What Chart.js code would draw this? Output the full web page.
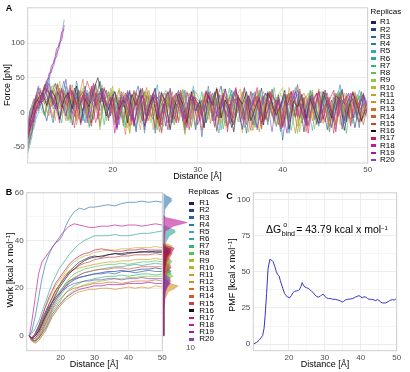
<!DOCTYPE html>
<html>
<head>
<meta charset="utf-8">
<script src="https://cdn.jsdelivr.net/npm/chart.js@4.4.1/dist/chart.umd.min.js"></script>
<style>
  body { margin: 0; background: #fff; font-family: "Liberation Sans", Arial, sans-serif; }
  #wrap { position: relative; width: 410px; height: 372px; overflow: hidden; }
  canvas { position: absolute; }
  .t { position: absolute; white-space: nowrap; color: #000; transform: translate(-50%, -50%); }
  .rot { transform: translate(-50%, -50%) rotate(-90deg); }
  .lbl { font-size: 9px; }
  .pan { font-size: 9px; font-weight: bold; }
  .leg { position: absolute; white-space: nowrap; font-size: 8px; line-height: 8px; color: #000; }
  .key { position: absolute; height: 2.5px; }
  sup { font-size: 6px; vertical-align: 3px; line-height: 0; }
  .sm { position: absolute; font-size: 7px; line-height: 8px; }
</style>
</head>
<body>
<div id="wrap">
  <canvas id="chartA" width="410" height="185" style="left:0;top:0"></canvas>
  <canvas id="chartB" width="172" height="187" style="left:0;top:185px"></canvas>
  <canvas id="chartBd" width="35" height="187" style="left:160px;top:185px"></canvas>
  <canvas id="chartC" width="185" height="187" style="left:225px;top:185px"></canvas>

  <div class="t pan" style="left:9px;top:7.5px">A</div>
  <div class="t pan" style="left:9px;top:191.5px">B</div>
  <div class="t pan" style="left:229.5px;top:196px">C</div>

  <div class="t rot lbl" style="left:7px;top:85px">Force [pN]</div>
  <div class="t lbl" style="left:197.5px;top:176px">Distance [Å]</div>
  <div class="t rot lbl" style="left:9.5px;top:270px">Work [kcal x mol<sup>−1</sup>]</div>
  <div class="t lbl" style="left:94px;top:363.5px">Distance [Å]</div>
  <div class="t rot lbl" style="left:232px;top:275px">PMF [kcal x mol<sup>−1</sup>]</div>
  <div class="t lbl" style="left:325px;top:363.5px">Distance [Å]</div>

  <div style="position:absolute;left:266px;top:223px;font-size:10.5px;line-height:12px;white-space:nowrap">ΔG<span style="position:relative;display:inline-block;width:15px;height:1px"><span class="sm" style="left:2px;top:-11px">o</span><span class="sm" style="left:0.5px;top:-2px">bind</span></span>= 43.79 kcal x mol<sup>−1</sup></div>

  <div class="leg" style="left:186px;top:344px;color:#4d4d4d">10</div>
  <div id="legA"></div>
  <div id="legB"></div>
</div>

<script>
const FONT = '"Liberation Sans", Arial, sans-serif';
Chart.defaults.font.family = FONT;

const replicas = ['R1', 'R2', 'R3', 'R4', 'R5', 'R6', 'R7', 'R8', 'R9', 'R10',
  'R11', 'R12', 'R13', 'R14', 'R15', 'R16', 'R17', 'R18', 'R19', 'R20'];
const colors = ['#1f1f5f', '#24408e', '#2d5fa8', '#2e78b0', '#40a0bd', '#30a59a', '#2cb86e', '#5cc24f', '#91c53c', '#b5b82d',
  '#c6a224', '#d08d28', '#d06f21', '#d25a2f', '#cc4040', '#101010', '#c8185a', '#c01a98', '#9b1aa8', '#7d44bb'];

// A: force traces (pN) vs distance, two sampling grids
const distA = [10, 10.5, 11, 11.5, 12, 12.5, 13, 13.5, 14, 14.5, 15, 15.5, 16, 16.5, 17, 17.5, 18, 18.5, 19, 19.5,
  20, 20.5, 21, 21.5, 22, 22.5, 23, 23.5, 24, 24.5, 25, 25.5, 26, 26.5, 27, 27.5, 28, 28.5, 29, 29.5,
  30, 30.5, 31, 31.5, 32, 32.5, 33, 33.5, 34, 34.5, 35, 35.5, 36, 36.5, 37, 37.5, 38, 38.5, 39, 39.5,
  40, 40.5, 41, 41.5, 42, 42.5, 43, 43.5, 44, 44.5, 45, 45.5, 46, 46.5, 47, 47.5, 48, 48.5, 49, 49.5, 50];
const distA2 = [10, 10.25, 10.75, 11.25, 11.75, 12.25, 12.75, 13.25, 13.75, 14.25, 14.75, 15.25, 15.75, 16.25, 16.75,
  17.25, 17.75, 18.25, 18.75, 19.25, 19.75, 20.25, 20.75, 21.25, 21.75, 22.25, 22.75, 23.25, 23.75, 24.25, 24.75,
  25.25, 25.75, 26.25, 26.75, 27.25, 27.75, 28.25, 28.75, 29.25, 29.75, 30.25, 30.75, 31.25, 31.75, 32.25, 32.75,
  33.25, 33.75, 34.25, 34.75, 35.25, 35.75, 36.25, 36.75, 37.25, 37.75, 38.25, 38.75, 39.25, 39.75, 40.25, 40.75,
  41.25, 41.75, 42.25, 42.75, 43.25, 43.75, 44.25, 44.75, 45.25, 45.75, 46.25, 46.75, 47.25, 47.75, 48.25, 48.75,
  49.25, 49.75];
const forceR = [
  [-40, -18, 5, 22, -5, 30, 12, 40, 8, 25, -10, 35, 18, 2, 28, -15, 20, 45, 10, -8, 22,
   -12, 18, 5, 30, -20, 12, 25, -5, 15, 35, -18, 8, 22, -10, 28, 4, -25, 15, 32, 0, 18, -15, 10, 28, -8, 20, 5, -22, 30, 12,
   -5, 24, -18, 8, 35, -10, 15, 2, 26, -20, 10, 30, -8, 18, -28, 12, 22, 0, -15, 28, 8, -12, 20, 32, -6, 14, -22, 10, 25, 5],
  [-25, -5, 12, 35, 8, -12, 25, 42, 15, 5, 30, -18, 22, 10, 38, 2, -10, 28, 15, 32, -5,
   20, 8, -15, 25, 10, -28, 18, 30, 2, -10, 22, 12, -20, 35, 5, 15, -8, 28, 18, -25, 10, 2, 30, -12, 20, 38, -5, 12, -18, 25,
   8, -30, 15, 22, 4, -10, 30, 14, -20, 8, 26, -8, 16, 40, -15, 5, 22, -10, 30, 10, -25, 18, 4, 28, -12, 12, 20, -5, 30, 6],
  [-55, -28, -2, 18, 40, 10, -15, 28, 20, 48, 0, 15, 32, -8, 22, 12, 38, -20, 18, 25, 8,
   -22, 30, 15, -5, 20, 38, -12, 10, 25, -30, 5, 18, 28, -15, 12, 0, 32, -8, 22, 10, -35, 20, 8, 30, -5, 15, -20, 26, 12, 2,
   35, -12, 18, -25, 8, 28, 14, -10, 20, -40, 10, 24, -6, 30, 4, -18, 16, 28, -2, 12, -28, 22, 8, 34, -14, 10, 18, -22, 26, 12],
  [-30, -10, 18, 5, 28, 42, 15, 25, -10, 32, 20, 8, 45, 12, -15, 30, 18, 5, 35, 10, 22,
   30, -10, 12, 25, 4, -22, 35, 15, -5, 20, 10, -28, 28, 6, 18, -12, 32, 10, -20, 22, 15, 2, 38, -8, 14, 25, -15, 5, 30, 12,
   -25, 20, 8, -10, 28, 16, -18, 34, 0, 10, 22, -30, 14, 26, 4, -12, 30, 8, -20, 18, 28, -6, 12, 40, -16, 6, 20, -10, 24, 2],
  [-45, -22, 8, 30, 12, 50, 5, 20, 35, -5, 18, 28, 10, -12, 32, 15, 40, 2, 22, -8, 30,
   5, 20, -18, 28, 12, -8, 34, 2, 16, -25, 24, 10, 30, -10, 6, 22, -20, 14, 38, 0, 18, -12, 26, 8, -30, 20, 12, 32, -6, 15,
   -22, 8, 28, 18, -14, 4, 30, 10, -18, 24, -4, 14, 36, -10, 20, 6, -26, 16, 30, 2, -12, 22, 10, -20, 28, 8, -8, 32, 14, 0],
  [-18, 2, 20, 10, 28, 45, 22, 5, 30, 15, -12, 25, 38, 8, 18, -20, 28, 12, 35, 2, 15,
   -15, 22, 8, 32, -5, 18, 10, -30, 25, 14, 40, -12, 6, 22, -18, 30, 12, 2, 25, -22, 15, 8, 30, -8, 20, -25, 12, 35, 4, 18,
   -10, 26, 10, -20, 32, 6, -14, 22, 16, -28, 10, 28, -6, 18, 4, -18, 32, 12, -10, 24, 8, -22, 16, 30, 0, 12, -16, 26, 10, -4],
  [-60, -35, 25, 8, -5, 18, 32, 12, -15, 38, 20, 5, 28, -12, 15, 32, 8, 22, -18, 30, 10,
   25, 2, -22, 18, 30, 10, -12, 24, 6, 35, -18, 12, 20, -8, 28, 14, -30, 8, 22, 2, 30, -15, 16, 10, 26, -24, 12, 32, -2, 18,
   -12, 8, 28, 14, -20, 22, 4, 36, -10, 12, 20, -26, 6, 24, 16, -8, 30, -18, 10, 22, 2, -14, 28, 12, -30, 18, 8, 24, -8, 6],
  [-32, -8, 0, 22, 15, 38, 10, 28, 8, 30, -10, 25, 12, 32, 18, -22, 10, 20, 40, -12, 35,
   4, 15, -20, 28, 10, 22, -15, 30, 6, 12, -25, 20, 32, -8, 14, 4, 26, -18, 10, 30, 18, -10, 8, 24, -28, 16, 34, 2, 12, -14,
   28, 6, 20, -22, 10, 30, 12, -6, 22, -16, 4, 26, 14, -30, 18, 8, 32, -10, 16, 24, -4, 10, -20, 30, 6, 20, -12, 14, 28, 8],
  [-40, -15, 15, 35, -5, 20, 40, 12, 18, 28, -15, 22, 8, 35, -8, 12, 26, -25, 18, 6, 32,
   -12, 20, 8, -30, 25, 14, 2, 30, -15, 20, 8, -20, 26, 12, -8, 32, 4, -18, 20, 10, -5, 28, 14, -22, 6, 34, 10, -12, 24, 2,
   18, -28, 12, 30, -6, 16, 8, -16, 26, 36, -10, 4, 22, -20, 14, 28, 0, -12, 20, 10, -26, 18, 30, 6, -8, 24, 12, -18, 10, 4],
  [-28, -2, 10, 28, 32, 8, 20, -12, 45, 15, 5, 30, -8, 30, 20, -15, 35, 6, 22, 14, 28,
   -8, 35, 14, -22, 5, 26, 18, -12, 30, -25, 12, 20, -5, 28, -18, 6, 34, 12, -22, 16, 4, 24, -10, 18, 30, -16, 8, 26, -4, 14,
   -30, 22, 10, 2, 32, -12, 18, 6, -20, 28, 12, -8, 20, 38, -14, 4, 24, -24, 10, 30, 14, -6, 22, -18, 8, 26, -2, 16, -12, 10],
  [-48, -20, 5, 18, 40, 25, 12, 35, -5, 22, 14, 30, -10, 25, 8, 30, 42, -18, 20, 12, 38,
   -12, 5, 25, -30, 16, 10, 32, -15, 20, 6, -20, 28, 14, -10, 22, 5, -32, 20, 30, -8, 10, 26, 2, 14, -18, 28, 8, -6, 20, 34,
   -14, 12, 2, 24, -22, 16, 30, -2, 8, -16, 26, 10, 18, -28, 6, 22, 32, -10, 12, 4, -20, 28, 16, -8, 20, 2, 30, -14, 12, 6],
  [-20, 0, 20, 2, 25, 12, 38, 18, 5, 30, 22, 40, -18, 8, 28, 14, -10, 32, 20, 8, 15,
   -18, 12, 30, -5, 22, 8, -25, 18, 32, 6, -15, 25, 10, -22, 16, 30, -12, 8, 22, -18, 6, 28, 14, -8, 34, 2, -20, 18, 10, 26,
   -12, 4, 30, 16, -28, 12, 22, -4, 18, 8, -14, 36, 6, -20, 14, 24, -8, 10, 30, -16, 20, 4, -24, 16, 28, -6, 12, 22, -10, 8],
  [-35, -12, 8, 32, 12, -5, 28, 42, 15, -12, 32, 10, 20, 48, -8, 35, 12, -5, 18, 30, 6,
   22, 6, -32, 18, 28, -10, 14, 36, -6, 12, -28, 22, 8, 30, -12, 18, -20, 28, 6, -8, 10, 32, -16, 20, 4, 26, -22, 12, 34, -4,
   16, 8, -26, 22, 10, -10, 30, 18, -18, 6, 24, 2, -30, 16, 28, 10, -12, 20, 6, 32, -20, 12, 24, -6, 14, -16, 28, 8, -2, 18],
  [-42, -25, 15, 12, 30, 18, 8, 25, 35, 2, 15, 30, -12, 22, 5, 28, 40, 10, 25, 14, -2,
   20, 32, -8, 14, -18, 30, 4, 20, -12, 26, 10, -30, 18, 6, 24, -15, 12, 30, -10, 20, 4, -22, 28, 14, 36, -8, 10, 22, -16, 6,
   30, 12, -26, 18, 2, 24, -12, 32, 8, -20, 14, 28, -4, 10, 20, -28, 16, 6, 34, -10, 22, 12, -18, 26, 4, -8, 30, 14, -14, 10],
  [-24, -5, 25, 18, 40, 15, -8, 25, 35, 10, 18, -22, 32, 16, 45, 25, -15, 12, 34, 20, 8,
   -10, 26, 12, -20, 32, 6, -12, 24, 14, -22, 30, 8, -15, 22, 10, 32, -18, 5, 24, 12, -26, 18, 30, 2, -8, 28, 16, -14, 20, 6,
   36, -10, 14, 24, -24, 8, 30, 0, 18, -18, 26, 12, -6, 34, 4, -20, 16, 28, -12, 10, 22, -30, 14, 30, 6, -10, 24, 10, -18, 12],
  [-38, -15, 10, 20, 28, 10, 32, 22, -10, 18, 28, 5, 38, -15, 20, 8, 32, 50, 22, -5, 14,
   30, 4, 18, -15, 26, 10, 32, -20, 8, 22, -10, 28, 14, -25, 8, 26, 12, -15, 30, 2, 16, -22, 24, 10, 34, -8, 18, 4, -28, 22,
   12, 30, -12, 6, 20, -18, 28, 14, -4, 10, 32, -24, 16, 8, 26, -10, 20, 2, -16, 30, 12, -8, 24, 18, -26, 6, 28, 10, -12, 4],
  [-50, -28, 22, 10, 35, 28, 18, 5, 32, 12, 40, -6, 20, 30, 10, -20, 28, 14, 36, -12, 20,
   -22, 12, 28, 6, -18, 20, 35, -10, 8, 26, -20, 12, 30, 2, -15, 28, 10, -25, 22, 14, -5, 30, 18, -12, 8, 24, -28, 14, 32, 4,
   -10, 20, 10, 36, -16, 12, 26, -4, 18, -22, 8, 30, 14, -8, 22, -30, 10, 28, 6, -14, 18, 32, -6, 12, 24, -20, 16, 6, 28, -10],
  [-28, -8, 5, 30, 15, 35, 22, 12, -15, 28, 20, 32, 10, -18, 25, 15, 42, -10, 30, 8, 22,
   -30, 18, 8, 30, -12, 16, 25, -20, 10, 28, 14, -18, 20, 32, -10, 18, 5, -22, 28, 12, -12, 6, 24, 16, -26, 10, 34, 2, -8, 20,
   12, -18, 30, 8, 22, -14, 4, 26, 14, -24, 18, 10, 32, -6, 12, -20, 24, 6, 30, -10, 16, 2, -28, 22, 12, 28, -8, 10, 20, -4],
  [-36, -12, 18, 15, 25, 42, 10, 30, 15, -5, 35, 20, 5, 25, -15, 38, 10, 28, 18, 4, 26,
   -25, 22, 14, 32, -15, 8, 24, -12, 20, 34, -8, 12, -25, 20, 28, 6, -10, 22, 16, -18, 5, 30, 12, -20, 26, 8, -6, 18, 36, -14,
   10, 24, 0, -22, 16, 28, 8, -12, 22, 4, -30, 14, 30, 10, -8, 20, 26, -16, 6, 32, 12, -10, 18, -24, 10, 28, 4, -14, 22, 8],
  [-22, 2, 12, 38, 22, 15, 30, 5, 20, 45, 18, -2, 28, 14, 32, -8, 18, 25, 35, 10, 12,
   12, -18, 24, 6, -10, 28, 16, -25, 12, 24, -5, 30, 8, -15, 20, 32, -12, 10, 26, 2, 18, -20, 14, 28, -6, 8, 34, -16, 20, 10,
   -24, 16, 4, 30, -10, 22, 12, -28, 18, 6, 26, -14, 10, 32, 0, -18, 24, 14, -8, 20, 6, -22, 28, 12, -12, 16, 30, -4, 8, 14]
];
// A: early pulling ramp
const rampDist = [10.1, 10.4, 10.7, 11, 11.3, 11.6, 11.9, 12.2, 12.5, 12.8, 13.1, 13.4, 13.7, 14, 14.3];
const rampForce1 = [-45, -30, -24, -8, 0, 18, 22, 40, 46, 62, 68, 86, 92, 112, 134];
const rampForce2 = [-28, -20, -4, 2, 16, 14, 34, 38, 56, 58, 76, 80, 100, 104, 126];
const rampForce3 = [-36, -12, -14, 8, 6, 26, 30, 46, 50, 68, 72, 92, 96, 116, 120];

// B: work (kcal/mol) vs distance
const distB = [10.8, 11.5, 12.5, 13.5, 14.5, 15.5, 16.5, 17.5, 18.5, 19.5, 20.5, 21.5, 22.5, 24, 25.5, 27, 28.5, 30,
  32, 34, 36, 38, 40, 42, 44, 46, 48, 50];
const workR = [
  [0, -1, 1, 4, 7, 10, 13, 16, 19, 21, 23, 25, 27, 29, 31, 32, 33, 33.5, 33, 34, 34.5, 34, 34.5, 35, 35, 35.5, 35, 35],
  [0, -1.5, -1, 1, 4, 7, 10, 13, 15, 17, 19, 21, 22, 23.5, 24.5, 25, 25.5, 26, 26.5, 27, 27, 27.5, 27, 27.5, 28, 28, 28.5, 28],
  [0, -1, 0, 3, 6, 9, 12, 14, 16, 18, 20, 22, 23, 24, 24.5, 25, 25.5, 26, 26, 26.5, 26, 27, 27, 26.5, 27, 27.5, 27, 27],
  [0, 2, 8, 16, 24, 30, 34, 37, 39, 40, 42, 46, 49, 52, 53.5, 53, 54, 54, 54.5, 55, 54.5, 55.5, 56, 56, 56.5, 56, 56.5, 56],
  [0, -2, -2, 0, 2, 5, 8, 11, 14, 16, 18, 20, 22, 24, 25.5, 26.5, 27, 27.5, 28, 28.5, 29, 29, 29.5, 30, 29.5, 30, 30.5, 30],
  [0, 1, 3, 6, 10, 14, 18, 22, 25, 28, 30, 32, 34, 36.5, 38.5, 40, 41, 42, 42, 42, 42.5, 42, 42, 42.5, 43, 43, 43.5, 44],
  [0, -2, -2.5, -1, 1, 4, 7, 10, 12, 14, 16, 18, 19.5, 21, 22, 23, 23.5, 24, 24.5, 25, 25, 25.5, 25, 25.5, 26, 26, 25.5, 26],
  [0, -1, 0, 2, 5, 8, 11, 14, 16, 18, 20, 22, 24, 26, 27, 28, 28.5, 29, 29.5, 30, 30, 30.5, 30, 30.5, 31, 31, 31.5, 31],
  [0, -2, -3, -2, 0, 2, 5, 8, 10, 12, 14, 16, 17.5, 19, 20.5, 21.5, 22, 22.5, 23, 23.5, 24, 24, 24.5, 24.5, 25, 25, 25, 25],
  [0, -1, 1, 4, 8, 12, 15, 18, 21, 23, 25, 27, 29, 31, 32.5, 33.5, 34, 35, 35.5, 36, 36, 36.5, 36.5, 37, 37, 37, 37.5, 37],
  [0, -2, -2, 0, 3, 7, 11, 15, 18, 21, 24, 26, 27, 28, 28.5, 29, 29.5, 30, 30.5, 31, 31, 31.5, 31.5, 32, 32, 32, 32.5, 32],
  [0, -2, -3, -2, 0, 2, 5, 8, 10, 12, 13.5, 15, 16, 17.5, 18.5, 19, 19.5, 19.5, 20, 20, 19.5, 20, 20.5, 20, 20.5, 20, 21, 20.5],
  [0, -1.5, -2, -1, 2, 5, 8, 11, 13, 15, 16.5, 18, 19, 20, 20.5, 21, 21.5, 22, 22, 22.5, 22.5, 22, 22.5, 23, 23, 23, 23.5, 23],
  [0, -1, -1, 1, 3, 6, 9, 12, 15, 17, 19, 21, 23, 24.5, 25.5, 26.5, 27, 27.5, 28, 28, 28.5, 28.5, 28, 28.5, 29, 29, 29, 29],
  [0, -1, 0, 2, 5, 9, 13, 16, 19, 21, 23, 25, 26.5, 28, 29.5, 30.5, 31, 32, 32.5, 33, 33, 33.5, 33.5, 34, 34, 34, 34.5, 34],
  [0, -1, 0, 2, 5, 8, 11, 14, 17, 20, 22, 24, 26, 28, 30, 31.5, 32.5, 33, 33.5, 34, 34.5, 34.5, 35, 35, 35.5, 35, 35.5, 35.5],
  [0, -1, 1, 4, 8, 12, 16, 19, 22, 24, 26, 28, 30, 32, 33.5, 34.5, 35, 36, 36.5, 36, 35.5, 35.5, 36, 36, 36.5, 36, 36, 36],
  [0, 6, 16, 26, 31, 33, 35, 37, 39, 41, 43, 44.5, 46, 47, 46.5, 46, 45.5, 45.5, 46, 46, 46.5, 46, 46.5, 46.5, 46, 46.5, 47, 46.5],
  [0, -1.5, -2, -1, 1, 3, 6, 9, 11, 13, 14.5, 16, 17, 18.5, 19.5, 20, 20.5, 21, 21, 21.5, 21.5, 21.5, 22, 22, 22, 22.5, 22, 22],
  [0, -1, 0, 3, 6, 9, 12, 14, 16, 17.5, 19, 20, 21, 22, 22.5, 23, 23, 23.5, 23.5, 24, 24, 23.5, 24, 24, 24.5, 24, 24, 24]
];
// B marginal: [work, density] pairs per replica
const densR = [
  [[0, 0], [10, 0.4], [25, 0.6], [31, 1.5], [33, 3], [34.5, 6], [35.5, 5], [36.5, 1], [37.5, 0]],
  [[0, 0], [10, 0.4], [20, 0.8], [25, 2], [27, 5], [28, 7], [29, 3], [30, 0]],
  [[0, 0], [12, 0.5], [22, 1], [25, 4], [26.5, 8], [27.5, 4], [28.5, 0]],
  [[0, 0], [20, 0.3], [40, 0.6], [52, 1.5], [54, 5], [55.5, 8.5], [56.5, 8], [57.5, 3], [58.5, 0]],
  [[0, 0], [15, 0.5], [25, 1.5], [28, 4], [29.5, 7], [30.5, 5], [31.5, 0]],
  [[0, 0], [15, 0.4], [30, 0.8], [38, 2], [41, 6], [42.5, 12], [43.5, 11], [44.5, 5], [45.5, 0]],
  [[0, 0], [12, 0.5], [20, 1], [24, 4], [25.5, 8], [26.5, 6], [27.5, 0]],
  [[0, 0], [15, 0.5], [25, 1.5], [29, 5], [30.5, 9], [31.5, 6], [32.5, 0]],
  [[0, 0], [10, 0.5], [20, 1.5], [23, 5], [24.5, 10], [25.5, 6], [26.5, 0]],
  [[0, 0], [15, 0.5], [30, 1.5], [34, 4], [36, 8], [37, 9], [38, 3], [39, 0]],
  [[0, 0], [15, 0.5], [25, 1.5], [29, 4], [31, 7], [32, 6], [33, 1], [34, 0]],
  [[0, 0], [8, 0.6], [15, 1.5], [18, 5], [19.5, 12], [20.5, 15], [21.5, 6], [22.5, 0]],
  [[0, 0], [10, 0.5], [18, 2], [21, 5], [22.5, 8], [23.5, 4], [24.5, 0]],
  [[0, 0], [12, 0.5], [22, 1.5], [26, 4], [28, 8], [29, 7], [30, 1], [31, 0]],
  [[0, 0], [15, 0.5], [25, 1.5], [30, 3], [32.5, 7], [34, 9], [35, 4], [36, 0]],
  [[0, 0], [15, 0.5], [28, 1.5], [32, 3], [34.5, 7], [35.5, 8], [36.5, 2], [37.5, 0]],
  [[0, 0], [15, 0.5], [28, 1.5], [32, 4], [34.5, 9], [36, 11], [37, 4], [38, 0]],
  [[0, 0], [20, 0.3], [35, 0.7], [43, 2], [45, 10], [46.5, 24], [47.5, 14], [48.5, 3], [49.5, 0]],
  [[0, 0], [10, 0.5], [18, 2], [20, 4], [21.5, 7], [22.5, 5], [23.5, 0]],
  [[0, 0], [10, 0.5], [18, 1.5], [21, 4], [23, 7], [24, 6], [25, 1], [26, 0]]
];

// C: PMF (kcal/mol) vs distance
const pmfDist = [10.1, 11, 11.7, 12.3, 12.7, 13.1, 13.4, 13.8, 14.2, 14.7, 15.2, 15.6, 16.1, 16.5, 16.9, 17.3, 17.6,
  18.3, 18.8, 19.2, 19.7, 20.2, 20.7, 21.1, 21.6, 22.1, 22.6, 23, 23.4, 23.7, 24, 24.4, 24.9, 25.4, 25.9, 26.3, 26.8,
  27.2, 27.7, 28.2, 28.7, 29.1, 29.6, 30, 30.5, 31, 31.5, 32.2, 32.9, 33.6, 34.3, 34.8, 35.2, 35.7, 36.4, 37.1, 37.8,
  38.5, 39, 39.5, 40, 40.4, 40.9, 41.4, 41.9, 42.3, 43, 43.7, 44.2, 44.6, 45.1, 45.6, 46, 46.5, 47, 47.5, 48, 48.4,
  48.9, 49.3, 49.7, 50];
const pmfValue = [0, 1.2, 2.7, 4.5, 6, 11, 20, 35, 52, 58.5, 58, 57, 53.5, 50, 48, 47, 44, 38.5, 35, 33.5, 32.5, 32,
  33.5, 35.5, 36.5, 36.8, 37, 38, 40, 42.5, 41, 39.5, 39, 38.5, 37.5, 36.5, 35.5, 34, 33, 32.5, 33, 34, 34.5, 33, 32,
  31.5, 31.5, 31, 31, 30.5, 30, 29, 29.5, 30.5, 31, 31.2, 31.5, 32.5, 33, 33.5, 32.8, 32, 32.7, 32.5, 31.5, 31, 31,
  30.5, 30, 30.8, 30.2, 29, 28.5, 28.4, 28.5, 29.3, 30, 30.5, 30.7, 30.5, 31, 31];

function alpha(hex, a) {
  const n = parseInt(hex.slice(1), 16);
  return `rgba(${n >> 16}, ${(n >> 8) & 255}, ${n & 255}, ${a})`;
}

function axis(min, max, majors, minors, size, isX) {
  return {
    type: 'linear', min, max,
    afterBuildTicks: s => { s.ticks = majors.concat(minors).map(v => ({ value: v })); },
    afterFit: s => { if (isX) s.height = size; else s.width = size; },
    border: { display: false },
    grid: {
      drawTicks: false, lineWidth: 0.7,
      color: c => (c.tick && majors.includes(c.tick.value)) ? '#e4e4e4' : '#f2f2f2'
    },
    ticks: {
      autoSkip: false, maxRotation: 0, padding: isX ? 2 : 3, color: '#4d4d4d',
      font: { size: 8, family: FONT },
      callback: v => majors.includes(v) ? String(v) : ''
    }
  };
}

const panelBorder = {
  id: 'panelBorder',
  afterDraw(chart) {
    const { ctx, chartArea: a } = chart;
    ctx.save();
    ctx.strokeStyle = '#cfcfcf';
    ctx.lineWidth = 1;
    ctx.strokeRect(a.left, a.top, a.right - a.left, a.bottom - a.top);
    ctx.restore();
  }
};

const base = {
  responsive: false, animation: false,
  plugins: { legend: { display: false }, tooltip: { enabled: false } },
  elements: { point: { radius: 0 }, line: { tension: 0 } }
};

// Panel A
const dsA = forceR.map((ys, i) => {
  const grid = i % 2 === 0 ? distA : distA2;
  return {
    data: ys.slice(0, grid.length).map((y, j) => ({ x: grid[j], y })),
    borderColor: alpha(colors[i], 0.72), borderWidth: 0.8, order: -i
  };
});
[[rampForce1, colors[4]], [rampForce2, colors[17]], [rampForce3, colors[18]]].forEach(([ys, c], k) => {
  dsA.push({ data: ys.map((y, j) => ({ x: rampDist[j], y })), borderColor: alpha(c, 0.75), borderWidth: 0.8, order: -30 - k });
});
new Chart(document.getElementById('chartA'), {
  type: 'line',
  data: { datasets: dsA },
  options: {
    ...base,
    layout: { padding: { left: 0, right: 42.3, top: 6, bottom: 0 } },
    scales: {
      x: axis(10, 50, [20, 30, 40, 50], [15, 25, 35, 45], 22, true),
      y: axis(-73, 151, [-50, 0, 50, 100], [-25, 25, 75, 125], 27.7, false)
    }
  },
  plugins: [panelBorder]
});

// Panel B
new Chart(document.getElementById('chartB'), {
  type: 'line',
  data: {
    datasets: workR.map((ys, i) => ({
      data: ys.map((y, j) => ({ x: distB[j], y })),
      borderColor: alpha(colors[i], 0.85), borderWidth: 0.8, order: -i
    }))
  },
  options: {
    ...base,
    layout: { padding: { left: 0, right: 9.7, top: 4.7, bottom: 0 } },
    scales: {
      x: axis(10, 50, [20, 30, 40, 50], [15, 25, 35, 45], 21.3, true),
      y: axis(-6.2, 60, [0, 20, 40, 60], [10, 30, 50], 26.7, false)
    }
  },
  plugins: [panelBorder]
});

// Panel B marginal densities
new Chart(document.getElementById('chartBd'), {
  type: 'line',
  data: {
    datasets: densR.map((pairs, i) => ({
      data: pairs.map(([w, d]) => ({ x: d, y: w })),
      borderColor: alpha(colors[i], 0.8), borderWidth: 0.4,
      backgroundColor: alpha(colors[i], 0.6), fill: 'shape', order: -i
    }))
  },
  options: {
    ...base,
    layout: { padding: { left: 3.3, right: 6.7, top: 4.7, bottom: 21.3 } },
    scales: {
      x: { type: 'linear', min: 0, max: 25, display: false },
      y: { type: 'linear', min: -6.2, max: 60, display: false }
    }
  }
});

// Panel C
new Chart(document.getElementById('chartC'), {
  type: 'line',
  data: {
    datasets: [{
      data: pmfValue.map((y, j) => ({ x: pmfDist[j], y })),
      borderColor: '#3535c8', borderWidth: 1
    }]
  },
  options: {
    ...base,
    layout: { padding: { left: 0, right: 13.3, top: 5, bottom: 0 } },
    scales: {
      x: axis(10.1, 50, [20, 30, 40, 50], [15, 25, 35, 45], 21.3, true),
      y: axis(-4.5, 104.5, [0, 25, 50, 75, 100], [12.5, 37.5, 62.5, 87.5], 28.3, false)
    }
  },
  plugins: [panelBorder]
});

// Legends
function legend(el, x, titleY, firstY, step, keyW, textX) {
  let html = `<div class="leg" style="left:${x}px;top:${titleY - 4}px">Replicas</div>`;
  replicas.forEach((r, i) => {
    const cy = firstY + i * step;
    html += `<div class="key" style="left:${x + 0.5}px;top:${cy - 1.25}px;width:${keyW}px;background:${colors[i]}"></div>`;
    html += `<div class="leg" style="left:${textX}px;top:${cy - 4}px">${r}</div>`;
  });
  document.getElementById(el).innerHTML = html;
}
legend('legA', 370.5, 11.7, 22.3, 7.26, 4.5, 380);
legend('legB', 188.3, 192.3, 203.3, 7.16, 5.5, 199.3);
</script>
</body>
</html>
